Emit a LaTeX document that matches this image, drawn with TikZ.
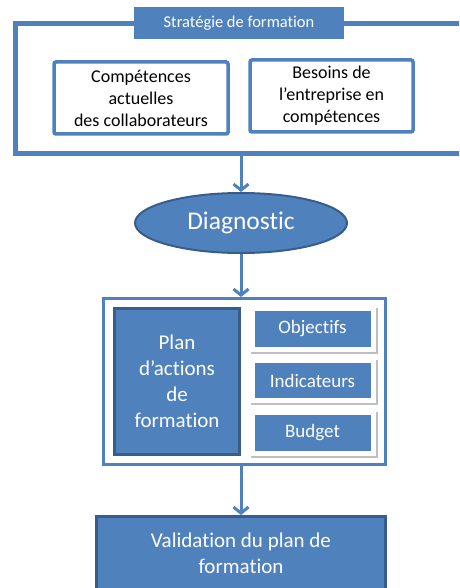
\documentclass[tikz,border=0pt]{standalone}
\usepackage{fontspec}
\setmainfont{Carlito}[Ligatures={NoCommon,NoRare}]
\usetikzlibrary{arrows.meta,shadows,shapes.geometric}
\definecolor{accent}{HTML}{4F81BD}
\definecolor{accentdark}{HTML}{385D8A}
\begin{document}
\begin{tikzpicture}[x=1pt,y=-1pt,
  frameline/.style={draw=accent,line width=5pt},
  outlinebox/.style={draw=accent,line width=3.5pt,rounded corners=2pt,fill=white,align=center,font=\fontsize{18}{22}\selectfont,inner sep=0pt},
  bluebox/.style={fill=accent,draw=accentdark,line width=3pt,text=white,align=center,inner sep=0pt},
  tagbox/.style={fill=accent,text=white,inner sep=0pt,minimum width=116pt,minimum height=36pt,font=\fontsize{19}{22}\selectfont},
  cardbox/.style={fill=white,draw=none,minimum width=127pt,drop shadow={shadow xshift=1.5pt,shadow yshift=-1.5pt,opacity=0.25,fill=black}},
  flow/.style={draw=accent,line width=3pt,-{Straight Barb[length=6pt,width=15pt]}}]
\useasboundingbox (0,0) rectangle (459,588);
\clip (0,0) rectangle (459,588);
\fill[white] (0,0) rectangle (459,588);

% strategy frame, running past the right edge
\node[frameline,minimum width=460pt,minimum height=130pt,inner sep=0pt] (strategy) at (245,89) {};
\node[fill=accent,text=white,minimum width=210pt,minimum height=32pt,inner sep=0pt,
      font=\fontsize{16.5}{20}\selectfont] (title) at (239,23) {Stratégie de formation};
\node[outlinebox,minimum width=174pt,minimum height=72pt] (comp) at (141,98)
  {Compétences\\actuelles\\des collaborateurs};
\node[outlinebox,minimum width=163pt,minimum height=72pt] (besoins) at (331.5,96)
  {Besoins de\\l’entreprise en\\compétences};

% diagnostic
\node[ellipse,fill=accent,draw=accentdark,line width=2pt,minimum width=212pt,minimum height=60pt,
      text=white,font=\fontsize{25.5}{30}\selectfont,inner sep=0pt] (diag) at (241,223) {Diagnostic};

% action plan
\node[draw=accent,line width=3pt,fill=white,minimum width=282pt,minimum height=166pt] (planframe) at (244.5,381.5) {};
\node[bluebox,minimum width=125pt,minimum height=146pt,font=\fontsize{21}{26}\selectfont] (plan) at (177,381.5)
  {Plan\\d’actions\\de\\formation};
\node[cardbox,minimum height=46pt] (objcard) at (312.5,329) {};
\node[cardbox,minimum height=45pt] (indcard) at (312.5,380.5) {};
\node[cardbox,minimum height=46pt] (budcard) at (312.5,433) {};
\node[tagbox] (obj) at (objcard) {Objectifs};
\node[tagbox,minimum height=35pt] (ind) at (indcard) {Indicateurs};
\node[tagbox] (bud) at (budcard) {Budget};

% validation
\node[bluebox,minimum width=289pt,minimum height=74pt,font=\fontsize{21}{26}\selectfont] (valid) at (241,553.5)
  {Validation du plan de\\formation};

% connectors
\draw[flow] (diag.north |- strategy.south) -- (diag.north);
\draw[flow] (diag.south) -- (diag.south |- planframe.north);
\draw[flow] (diag.south |- planframe.south) -- (diag.south |- valid.north);
\end{tikzpicture}
\end{document}
